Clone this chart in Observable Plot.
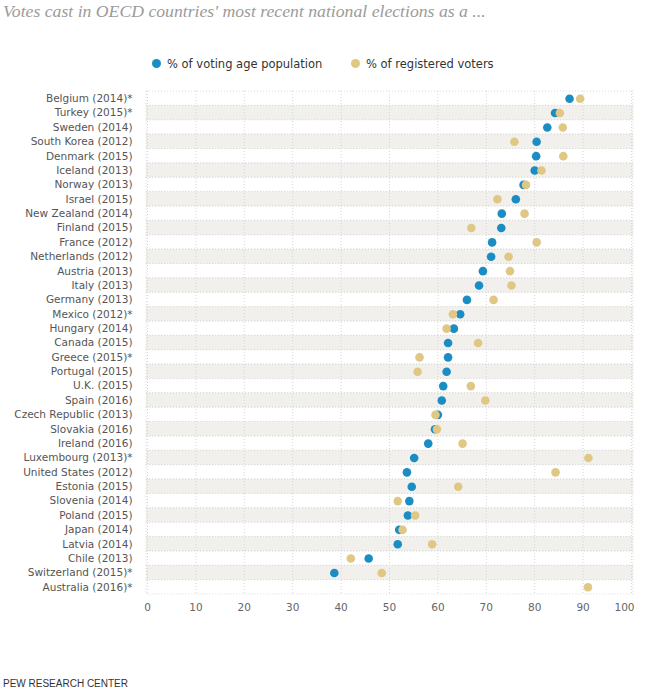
<!DOCTYPE html>
<html>
<head>
<meta charset="utf-8">
<script src="https://cdn.jsdelivr.net/npm/d3@7"></script>
<script src="https://cdn.jsdelivr.net/npm/@observablehq/plot@0.6"></script>
<style>
  html, body { margin: 0; padding: 0; background: #fff; }
  #wrap { position: relative; width: 647px; height: 694px; overflow: hidden; }
  #title { position: absolute; left: 3px; top: 1px; font-family: "Liberation Serif", serif; font-style: italic; font-size: 17.7px; color: #9b9b9b; white-space: nowrap; }
  #legend { position: absolute; top: 56px; left: 0; width: 647px; height: 16px; font-family: "DejaVu Sans", sans-serif; font-size: 11.5px; color: #333; }
  .lg { position: absolute; top: 0; white-space: nowrap; line-height: 16px; }
  .sw { position: absolute; width: 9px; height: 9px; border-radius: 50%; top: 3px; }
  #chart { position: absolute; left: 0; top: 0; }
  #footer { position: absolute; left: 3px; top: 678px; font-family: "Liberation Sans", Arial, sans-serif; font-size: 10px; color: #333; white-space: nowrap; }
</style>
</head>
<body>
<div id="wrap">
  <div id="chart"></div>
  <div id="title">Votes cast in OECD countries' most recent national elections as a ...</div>
  <div id="legend"></div>
  <div id="footer">PEW RESEARCH CENTER</div>
</div>
<script>
const countries = [
  "Belgium (2014)*", "Turkey (2015)*", "Sweden (2014)", "South Korea (2012)", "Denmark (2015)",
  "Iceland (2013)", "Norway (2013)", "Israel (2015)", "New Zealand (2014)", "Finland (2015)",
  "France (2012)", "Netherlands (2012)", "Austria (2013)", "Italy (2013)", "Germany (2013)",
  "Mexico (2012)*", "Hungary (2014)", "Canada (2015)", "Greece (2015)*", "Portugal (2015)",
  "U.K. (2015)", "Spain (2016)", "Czech Republic (2013)", "Slovakia (2016)", "Ireland (2016)",
  "Luxembourg (2013)*", "United States (2012)", "Estonia (2015)", "Slovenia (2014)", "Poland (2015)",
  "Japan (2014)", "Latvia (2014)", "Chile (2013)", "Switzerland (2015)*", "Australia (2016)*"
];
const votingAgePopulation = [
  87.2, 84.2, 82.6, 80.4, 80.3,
  80.0, 77.7, 76.1, 73.2, 73.1,
  71.2, 71.0, 69.3, 68.5, 66.0,
  64.6, 63.3, 62.1, 62.1, 61.8,
  61.1, 60.8, 60.0, 59.4, 58.0,
  55.1, 53.6, 54.6, 54.1, 53.8,
  52.0, 51.7, 45.7, 38.6, null
];
const registeredVoters = [
  89.4, 85.2, 85.8, 75.8, 85.9,
  81.4, 78.2, 72.3, 77.9, 66.9,
  80.4, 74.6, 74.9, 75.2, 71.5,
  63.1, 61.8, 68.3, 56.2, 55.8,
  66.8, 69.8, 59.5, 59.8, 65.1,
  91.1, 84.3, 64.2, 51.7, 55.3,
  52.7, 58.8, 42.0, 48.4, 91.0
];
const xTicks = [0, 10, 20, 30, 40, 50, 60, 70, 80, 90, 100];
const seriesNames = ["% of voting age population", "% of registered voters"];
const seriesColors = ["#1a8dc5", "#e0c784"];

const rows = countries.map((c, i) => ({country: c, i, vap: votingAgePopulation[i], reg: registeredVoters[i]}));

const chart = Plot.plot({
  width: 647,
  height: 620,
  marginLeft: 147,
  marginRight: 16,
  marginTop: 91,
  marginBottom: 26,
  style: {fontFamily: "DejaVu Sans, sans-serif", fontSize: "10px", background: "transparent"},
  x: {domain: [0, 100], label: null},
  y: {domain: countries, padding: 0, round: false, label: null},
  marks: [
    Plot.barX(rows.filter(d => d.i % 2 === 1), {x1: 0, x2: 100, y: "country", fill: "#f2f0ec", insetLeft: -1, insetRight: -2}),
    Plot.ruleX(xTicks, {x: d => d, stroke: "#d6d6d6", strokeDasharray: "1,2"}),
    Plot.barX(rows, {x1: 0, x2: 100, y: "country", fill: "none", stroke: "#dadada", strokeDasharray: "1,2", insetLeft: -1, insetRight: -2}),
    Plot.axisY({tickSize: 0, tickPadding: 15, fill: "#555", fontSize: 10.5}),
    Plot.axisX(xTicks.slice(0, -1), {tickSize: 0, tickPadding: 9, fill: "#666", fontSize: 10.5}),
    Plot.axisX([100], {tickSize: 0, tickPadding: 9, fill: "#666", fontSize: 10.5, textAnchor: "end", dx: 3}),
    Plot.dot(rows.filter(d => d.vap != null), {x: "vap", y: "country", r: 4.3, fill: seriesColors[0]}),
    Plot.dot(rows.filter(d => d.reg != null), {x: "reg", y: "country", r: 4.3, fill: seriesColors[1]})
  ]
});
document.getElementById("chart").appendChild(chart);

const legend = document.getElementById("legend");
const legendX = [152, 351];
seriesNames.forEach((name, k) => {
  const sw = document.createElement("span");
  sw.className = "sw";
  sw.style.left = legendX[k] + "px";
  sw.style.background = seriesColors[k];
  legend.appendChild(sw);
  const t = document.createElement("span");
  t.className = "lg";
  t.style.left = (legendX[k] + 15) + "px";
  t.textContent = name;
  legend.appendChild(t);
});
</script>
</body>
</html>
